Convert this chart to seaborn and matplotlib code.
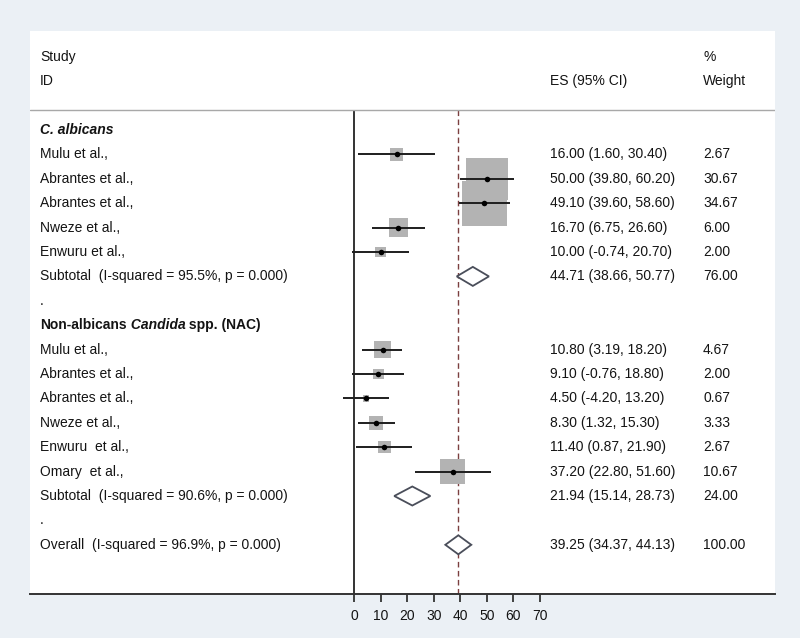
import numpy as np
import pandas as pd
import matplotlib
matplotlib.use("Agg")
import matplotlib.pyplot as plt
import matplotlib.transforms as mtransforms
from matplotlib.patches import Polygon
import seaborn as sns

# C. albicans studies
alb_study = ["Mulu et al.,", "Abrantes et al.,", "Abrantes et al.,", "Nweze et al.,", "Enwuru et al.,"]
alb_es = [16.00, 50.00, 49.10, 16.70, 10.00]
alb_lo = [1.60, 39.80, 39.60, 6.75, -0.74]
alb_hi = [30.40, 60.20, 58.60, 26.60, 20.70]
alb_w = [2.67, 30.67, 34.67, 6.00, 2.00]

# non-albicans studies
nac_study = ["Mulu et al.,", "Abrantes et al.,", "Abrantes et al.,", "Nweze et al.,",
             "Enwuru  et al.,", "Omary  et al.,"]
nac_es = [10.80, 9.10, 4.50, 8.30, 11.40, 37.20]
nac_lo = [3.19, -0.76, -4.20, 1.32, 0.87, 22.80]
nac_hi = [18.20, 18.80, 13.20, 15.30, 21.90, 51.60]
nac_w = [4.67, 2.00, 0.67, 3.33, 2.67, 10.67]

# pooled estimates
sub_label = ["Subtotal  (I-squared = 95.5%, p = 0.000)", "Subtotal  (I-squared = 90.6%, p = 0.000)"]
sub_es = [44.71, 21.94]
sub_lo = [38.66, 15.14]
sub_hi = [50.77, 28.73]
sub_w = [76.00, 24.00]
overall_label = "Overall  (I-squared = 96.9%, p = 0.000)"
overall_es, overall_lo, overall_hi, overall_w = 39.25, 34.37, 44.13, 100.00

xticks = [0, 10, 20, 30, 40, 50, 60, 70]

# row layout (one row per line of the table)
alb_y = list(range(1, 1 + len(alb_study)))
sub1_y = alb_y[-1] + 1
nac_head_y = sub1_y + 2
nac_y = list(range(nac_head_y + 1, nac_head_y + 1 + len(nac_study)))
sub2_y = nac_y[-1] + 1
overall_y = sub2_y + 2

studies = pd.DataFrame({
    "label": alb_study + nac_study,
    "es": alb_es + nac_es,
    "lo": alb_lo + nac_lo,
    "hi": alb_hi + nac_hi,
    "w": alb_w + nac_w,
    "y": alb_y + nac_y,
})
pooled = pd.DataFrame({
    "label": sub_label + [overall_label],
    "es": sub_es + [overall_es],
    "lo": sub_lo + [overall_lo],
    "hi": sub_hi + [overall_hi],
    "w": sub_w + [overall_w],
    "y": [sub1_y, sub2_y, overall_y],
})

sns.set_theme(style="white")
plt.rcParams["font.family"] = ["Liberation Sans", "DejaVu Sans"]
txt_col = "#141414"
fs = 10

fig = plt.figure(figsize=(8, 6.38), dpi=100, facecolor="#ebf0f5")
ax = fig.add_axes([30 / 800, 44 / 638, 745 / 800, 563 / 638])
ax.set_facecolor("white")

ytop, ybot = -4.057, 19.016
sep_y = -0.82
ax.set_xlim(-121.9, 158.4)
ax.set_ylim(ybot, ytop)

# weight boxes, area proportional to weight
k = 29.94
wmin, wmax = studies.w.min(), studies.w.max()
sns.scatterplot(data=studies, x="es", y="y", size="w", sizes=(k * wmin, k * wmax),
                size_norm=(wmin, wmax), marker="s", color="#b3b3b3", linewidth=0,
                legend=False, ax=ax, zorder=2)
ax.hlines(studies.y, studies.lo, studies.hi, color="#1e1e1e", lw=1.4, zorder=3)
sns.scatterplot(data=studies, x="es", y="y", color="black", s=16, linewidth=0,
                legend=False, ax=ax, zorder=4)

h = 0.39
for _, r in pooled.iterrows():
    ax.add_patch(Polygon([(r.lo, r.y), (r.es, r.y - h), (r.hi, r.y), (r.es, r.y + h)],
                         closed=True, facecolor="white", edgecolor="#4a4e5a", lw=1.3, zorder=3))

ax.vlines(0, sep_y, ybot, color="#333333", lw=1.4, zorder=1)
ax.vlines(overall_es, sep_y, ybot, color="#7b3f3f", lw=1.0, linestyles=(0, (4, 2.5)), zorder=1)
ax.axhline(sep_y, color="#a8a8a8", lw=1.0)

# text columns
trans = mtransforms.blended_transform_factory(ax.transAxes, ax.transData)
x_lab, x_es, x_w = 0.0134, 0.698, 0.9034
kw = dict(transform=trans, va="center", ha="left", fontsize=fs, color=txt_col)

ax.text(x_lab, -3, "Study", **kw)
ax.text(x_lab, -2, "ID", **kw)
ax.text(x_es, -2, "ES (95% CI)", **kw)
ax.text(x_w, -3, "%", **kw)
ax.text(x_w, -2, "Weight", **kw)

ax.text(x_lab, 0, "C. albicans", fontweight="bold", fontstyle="italic", **kw)
t1 = ax.text(x_lab, nac_head_y, "Non-albicans", fontweight="bold", **kw)
t2 = ax.annotate(" Candida", xy=(1, 0), xycoords=t1, va="bottom", ha="left", fontsize=fs,
                 color=txt_col, fontweight="bold", fontstyle="italic")
ax.annotate(" spp. (NAC)", xy=(1, 0), xycoords=t2, va="bottom", ha="left", fontsize=fs,
            color=txt_col, fontweight="bold")
ax.text(x_lab, sub1_y + 1, ".", **kw)
ax.text(x_lab, sub2_y + 1, ".", **kw)

for df in (studies, pooled):
    for _, r in df.iterrows():
        ax.text(x_lab, r.y, r.label, **kw)
        ax.text(x_es, r.y, f"{r.es:.2f} ({r.lo:.2f}, {r.hi:.2f})", **kw)
        ax.text(x_w, r.y, f"{r.w:.2f}", **kw)

# axis
for s in ("top", "left", "right"):
    ax.spines[s].set_visible(False)
ax.spines["bottom"].set_color("#333333")
ax.spines["bottom"].set_linewidth(1.4)
ax.set_xticks(xticks)
ax.set_xticklabels([str(t) for t in xticks])
ax.set_yticks([])
ax.tick_params(axis="x", bottom=True, direction="out", length=6, width=1.3,
               color="#333333", pad=5, labelsize=fs, labelcolor=txt_col)
ax.set_xlabel("")
ax.set_ylabel("")

fig.savefig("out.png", dpi=100, facecolor=fig.get_facecolor())
